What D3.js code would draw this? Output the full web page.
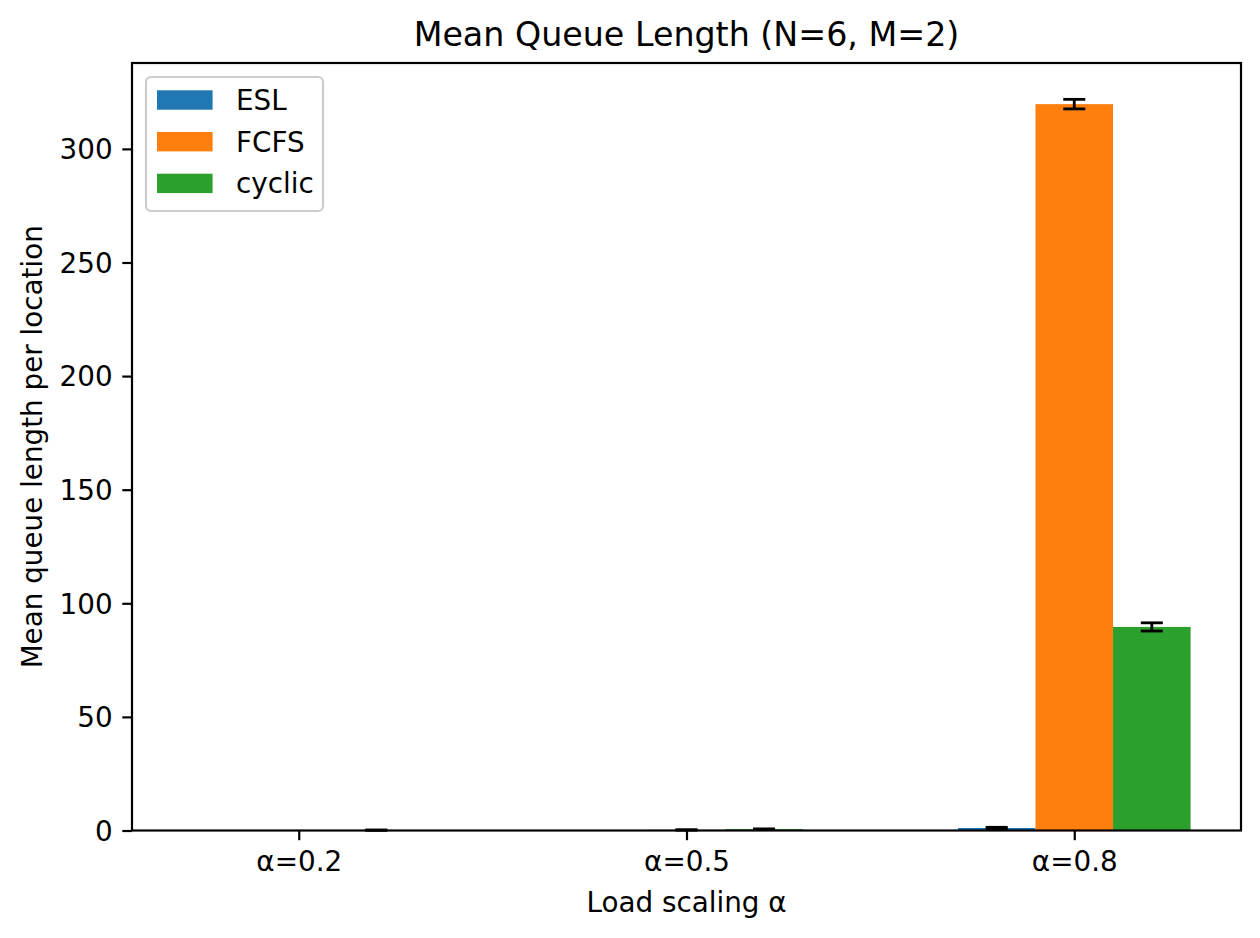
<!DOCTYPE html>
<html>
<head>
<meta charset="utf-8">
<script src="https://cdn.jsdelivr.net/npm/d3@7"></script>
<style>
  html, body { margin: 0; padding: 0; background: #fff; }
  svg { display: block; }
  text { font-family: "DejaVu Sans", sans-serif; fill: #000; }
</style>
</head>
<body>
<svg id="chart" width="1260" height="938"></svg>
<script>
const categories = ["α=0.2", "α=0.5", "α=0.8"];
const seriesNames = ["ESL", "FCFS", "cyclic"];
const eslValues = [0.0, 0.0, 1.1];
const eslErrors = [0.0, 0.0, 0.3];
const fcfsValues = [0.0, 0.25, 319.7];
const fcfsErrors = [0.0, 0.05, 2.1];
const cyclicValues = [0.15, 0.6, 89.6];
const cyclicErrors = [0.05, 0.1, 1.8];
const yTicks = [0, 50, 100, 150, 200, 250, 300];
const colors = ["#1f77b4", "#ff7f0e", "#2ca02c"];

const series = [
  { name: seriesNames[0], values: eslValues, errors: eslErrors, color: colors[0] },
  { name: seriesNames[1], values: fcfsValues, errors: fcfsErrors, color: colors[1] },
  { name: seriesNames[2], values: cyclicValues, errors: cyclicErrors, color: colors[2] }
];

const pLeft = 132, pRight = 1241, pTop = 63, pBottom = 830.5;
const fs = 27.8;
const barW = 0.2;

const svg = d3.select("#chart");
const x = d3.scaleLinear().domain([-0.43, 2.43]).range([pLeft, pRight]);
const y = d3.scaleLinear().domain([0, 337.8]).range([pBottom, pTop]);

// bars
series.forEach((s, j) => {
  svg.append("g").selectAll("rect").data(s.values).enter().append("rect")
    .attr("x", (d, i) => x(i + (j - 1) * barW - barW / 2))
    .attr("width", (d, i) => x(i + (j - 1) * barW + barW / 2) - x(i + (j - 1) * barW - barW / 2))
    .attr("y", d => y(d))
    .attr("height", d => y(0) - y(d))
    .attr("fill", s.color);
});

// error bars
const capHalf = 11;
series.forEach((s, j) => {
  const g = svg.append("g").attr("stroke", "#000").attr("stroke-width", 2.8);
  s.values.forEach((v, i) => {
    if (v === 0 && s.errors[i] === 0) return; // hidden under the spine
    const cx = x(i + (j - 1) * barW);
    const lo = y(v - s.errors[i]), hi = y(v + s.errors[i]);
    g.append("line").attr("x1", cx).attr("x2", cx).attr("y1", lo).attr("y2", hi);
    g.append("line").attr("x1", cx - capHalf).attr("x2", cx + capHalf).attr("y1", lo).attr("y2", lo);
    g.append("line").attr("x1", cx - capHalf).attr("x2", cx + capHalf).attr("y1", hi).attr("y2", hi);
  });
});

// y axis
const yAxis = d3.axisLeft(y).tickValues(yTicks).tickSize(9.7).tickPadding(9.7).tickFormat(d3.format("d"));
const gy = svg.append("g").attr("transform", `translate(${pLeft},0)`).call(yAxis);
gy.select(".domain").remove();
gy.selectAll(".tick line").attr("stroke", "#000").attr("stroke-width", 2.2);
gy.selectAll(".tick text").attr("font-size", fs).attr("font-family", "DejaVu Sans").attr("dy", "0.35em");

// x axis
const xAxis = d3.axisBottom(x).tickValues([0, 1, 2]).tickSize(9.7).tickPadding(9.7).tickFormat(i => categories[i]);
const gx = svg.append("g").attr("transform", `translate(0,${pBottom})`).call(xAxis);
gx.select(".domain").remove();
gx.selectAll(".tick line").attr("stroke", "#000").attr("stroke-width", 2.2);
gx.selectAll(".tick text").attr("font-size", fs).attr("font-family", "DejaVu Sans").attr("dy", "0.76em");

// spines
svg.append("rect").attr("x", pLeft).attr("y", pTop).attr("width", pRight - pLeft).attr("height", pBottom - pTop)
  .attr("fill", "none").attr("stroke", "#000").attr("stroke-width", 2.2);

// title and labels
svg.append("text").attr("x", (pLeft + pRight) / 2).attr("y", 46).attr("text-anchor", "middle")
  .attr("font-size", 33.3).text("Mean Queue Length (N=6, M=2)");
svg.append("text").attr("x", (pLeft + pRight) / 2).attr("y", 912).attr("text-anchor", "middle")
  .attr("font-size", fs).text("Load scaling α");
svg.append("text").attr("transform", `translate(42,${(pTop + pBottom) / 2}) rotate(-90)`).attr("text-anchor", "middle")
  .attr("font-size", fs).text("Mean queue length per location");

// legend
const lg = svg.append("g");
lg.append("rect").attr("x", 146).attr("y", 77).attr("width", 177).attr("height", 134).attr("rx", 5)
  .attr("fill", "#fff").attr("fill-opacity", 0.8).attr("stroke", "#cccccc").attr("stroke-width", 2.2);
series.forEach((s, j) => {
  const cy = 100 + j * 41.7;
  lg.append("rect").attr("x", 157).attr("y", cy - 9.7).attr("width", 55.6).attr("height", 19.4).attr("fill", s.color);
  lg.append("text").attr("x", 236).attr("y", cy + 10).attr("font-size", fs).text(s.name);
});
</script>
</body>
</html>
